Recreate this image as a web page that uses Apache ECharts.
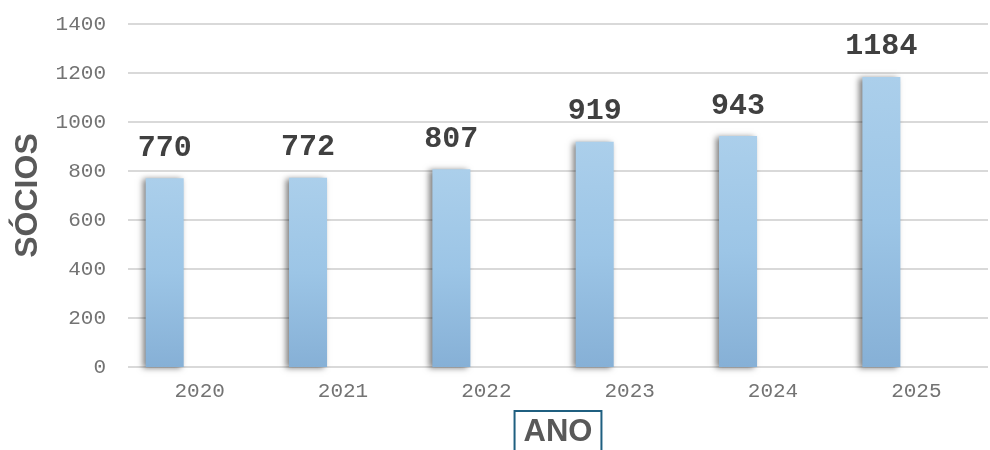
<!DOCTYPE html>
<html>
<head>
<meta charset="utf-8">
<script src="https://cdn.jsdelivr.net/npm/echarts@6/dist/echarts.min.js"></script>
<style>
  html, body { margin: 0; padding: 0; background: #fff; }
  #chart { width: 990px; height: 450px; }
</style>
</head>
<body>
<div id="chart"></div>
<script>
const anos = ['2020', '2021', '2022', '2023', '2024', '2025'];
const socios = [770, 772, 807, 919, 943, 1184];
const vazio = [null, null, null, null, null, null];

var myChart = echarts.init(document.getElementById('chart'));
var option = {
    animation: false,
    grid: {
        left: 128,
        right: 2,
        top: 24,
        bottom: 83,
        containLabel: false,
        outerBoundsMode: 'none'
    },
    xAxis: {
        type: 'category',
        data: anos,
        axisLine: { show: false },
        axisTick: { show: false },
        axisLabel: {
            color: '#737373',
            fontFamily: 'Liberation Mono',
            fontSize: 21,
            margin: 14
        },
        name: 'ANO',
        nameLocation: 'middle',
        nameGap: 44,
        nameTextStyle: {
            color: '#595959',
            fontFamily: 'Liberation Sans',
            fontWeight: 'bold',
            fontSize: 31,
            borderColor: '#1f5f80',
            borderWidth: 2,
            padding: [6, 9, 8, 9]
        }
    },
    yAxis: {
        type: 'value',
        min: 0,
        max: 1400,
        interval: 200,
        axisLine: { show: false },
        axisTick: { show: false },
        splitLine: { lineStyle: { color: '#d9d9d9', width: 2 } },
        axisLabel: {
            color: '#737373',
            fontFamily: 'Liberation Mono',
            fontSize: 21,
            margin: 22,
            formatter: function (v) { return String(v); }
        },
        name: 'SÓCIOS',
        nameLocation: 'middle',
        nameGap: 84,
        nameRotate: 90,
        nameTextStyle: {
            color: '#595959',
            fontFamily: 'Liberation Sans',
            fontWeight: 'bold',
            fontSize: 32
        }
    },
    series: [
        {
            name: 'Sócios',
            type: 'bar',
            data: socios,
            barWidth: 38,
            barGap: '84%',
            itemStyle: {
                color: new echarts.graphic.LinearGradient(0, 0, 0, 1, [
                    { offset: 0, color: '#abcfeb' },
                    { offset: 0.5, color: '#9cc5e6' },
                    { offset: 1, color: '#86b0d6' }
                ]),
                shadowColor: 'rgba(0,0,0,0.5)',
                shadowBlur: 6,
                shadowOffsetX: -3,
                shadowOffsetY: 1
            },
            label: {
                show: true,
                position: 'top',
                distance: 15,
                color: '#404040',
                fontFamily: 'Liberation Mono',
                fontWeight: 'bold',
                fontSize: 30
            }
        },
        {
            name: 'vazio',
            type: 'bar',
            data: vazio,
            barWidth: 38
        }
    ]
};
myChart.setOption(option);
window.addEventListener('resize', function() {
    myChart.resize();
});
</script>
</body>
</html>
